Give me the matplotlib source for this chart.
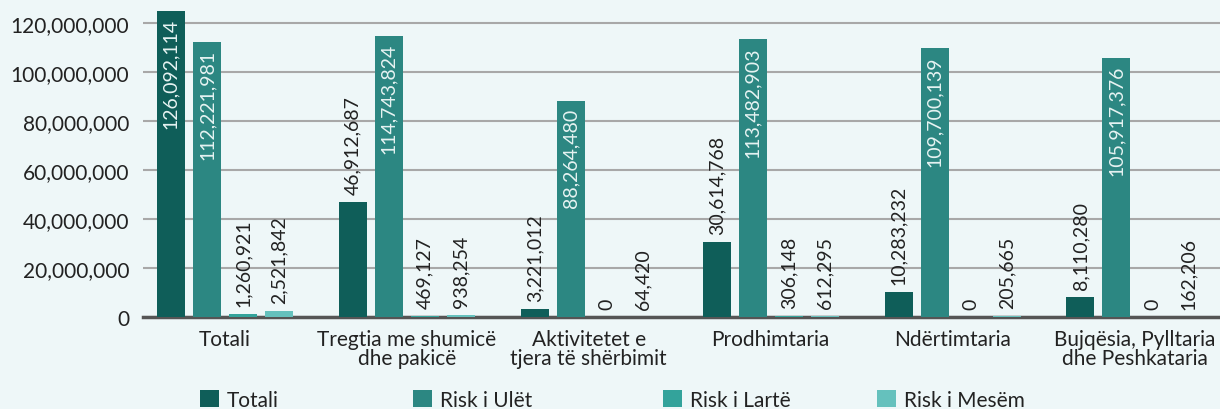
import matplotlib.pyplot as plt
import numpy as np

plt.rcParams['font.family'] = ['Lato', 'DejaVu Sans']

categories = ["Totali", "Tregtia me shumicë\ndhe pakicë", "Aktivitetet e\ntjera të shërbimit",
              "Prodhimtaria", "Ndërtimtaria", "Bujqësia, Pylltaria\ndhe Peshkataria"]
series = ["Totali", "Risk i Ulët", "Risk i Lartë", "Risk i Mesëm"]
totali = [126092114, 46912687, 3221012, 30614768, 10283232, 8110280]
risk_ulet = [112221981, 114743824, 88264480, 113482903, 109700139, 105917376]
risk_larte = [1260921, 469127, 0, 306148, 0, 0]
risk_mesem = [2521842, 938254, 64420, 612295, 205665, 162206]

colors = ["#0f5e59", "#2c8782", "#33a39b", "#65c1bd"]
bg = "#eef7f8"
ymax = 125e6

fig = plt.figure(figsize=(12.2, 4.1), dpi=100, facecolor=bg)
ax = fig.add_axes([143 / 1220, 92 / 410, 1 - 143 / 1220, 306 / 410])
ax.set_facecolor(bg)

x = np.arange(len(categories))
step = 0.198
width = 0.154
all_vals = [totali, risk_ulet, risk_larte, risk_mesem]

for i, (name, vals) in enumerate(zip(series, all_vals)):
    pos = x + (i - 1.5) * step
    ax.bar(pos, vals, width=width, color=colors[i], label=name, zorder=3)
    for px, v in zip(pos, vals):
        txt = f"{v:,}"
        if v > 60e6:
            ax.annotate(txt, (px, min(v, ymax)), xytext=(0, -7), textcoords="offset pixels",
                        rotation=90, ha="center", va="top", fontsize=14, color="#e6f3f2", zorder=4)
        else:
            ax.annotate(txt, (px, v), xytext=(0, 8), textcoords="offset pixels",
                        rotation=90, ha="center", va="bottom", fontsize=14, color="#222222", zorder=4)

ax.set_xlim(-0.45, 5.47)
ax.set_ylim(0, ymax)
ax.set_yticks(np.arange(0, 120e6 + 1, 20e6))
ax.yaxis.set_major_formatter(plt.FuncFormatter(lambda v, p: f"{int(v):,}"))
ax.set_xticks(x)
ax.set_xticklabels(categories, linespacing=0.9)
ax.tick_params(axis="both", length=0, labelsize=15, colors="#222222")
ax.tick_params(axis="y", pad=10)
ax.tick_params(axis="x", pad=9)
ax.grid(axis="y", color="#a8a8a8", linewidth=1.5, zorder=0)
for s in ["top", "right", "left"]:
    ax.spines[s].set_visible(False)
ax.spines["bottom"].set_color("#555555")
ax.spines["bottom"].set_linewidth(2.5)
ax.spines["bottom"].set_zorder(2)

# legend entries placed individually
handles, labels = ax.get_legend_handles_labels()
legend_x = [200, 413, 663, 877]
for h, lab, lx in zip(handles, labels, legend_x):
    leg = fig.legend([h], [lab], loc="center left", bbox_to_anchor=(lx / 1220, 1 - 401 / 410),
                     frameon=False, fontsize=15, handlelength=0.9, handleheight=0.9,
                     handletextpad=0.4, borderpad=0, borderaxespad=0)
    for t in leg.get_texts():
        t.set_color("#222222")

fig.savefig("out.png", dpi=100, facecolor=bg)
